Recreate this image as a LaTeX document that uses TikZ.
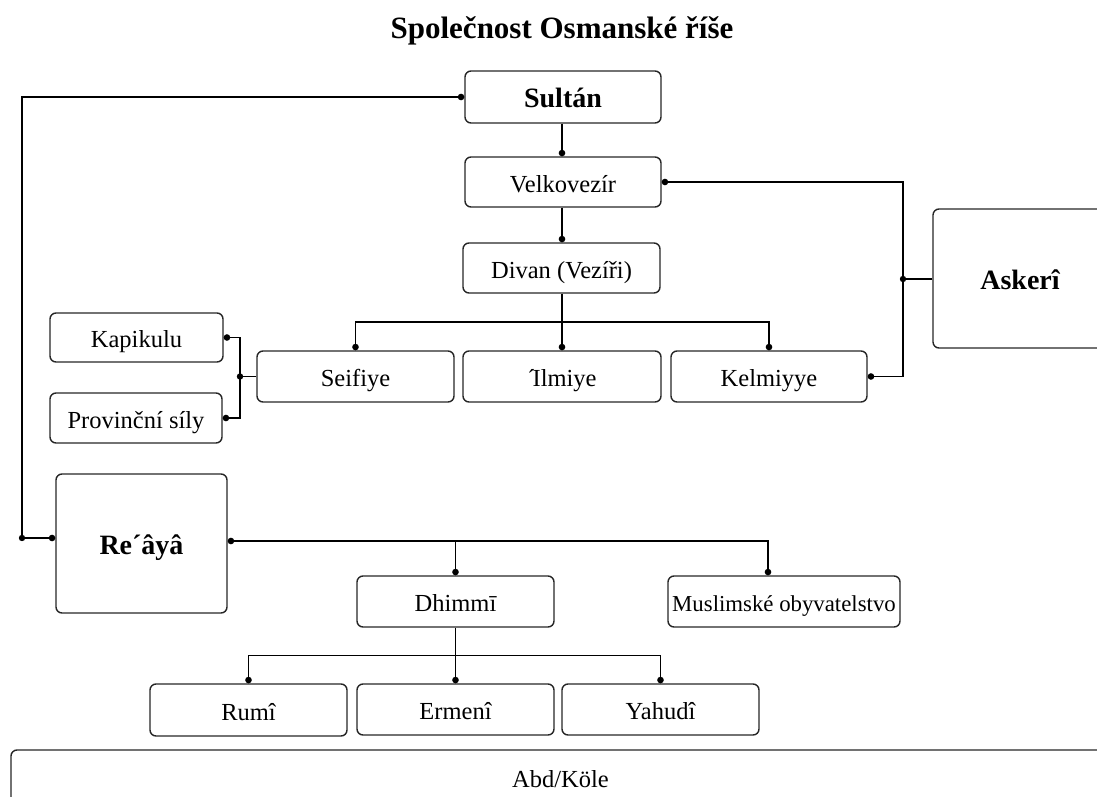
\documentclass[tikz,border=0pt]{standalone}
\usepackage{fontspec}
\setmainfont{Liberation Serif}
\usetikzlibrary{arrows.meta,calc}
\begin{document}
\begin{tikzpicture}[x=1pt,y=-1pt,
  box/.style={draw=black!85, line width=1.4pt, rounded corners=6pt, inner sep=0pt, align=center,
    font=\fontsize{24.5}{29}\selectfont, text height=20pt, text depth=0pt},
  bbox/.style={box, font=\fontsize{28}{33}\bfseries\selectfont, text height=21pt, text depth=0pt},
  conn/.style={line width=1.4pt, draw=black, -{Circle[length=6.5pt]}},
  conn2/.style={line width=1.4pt, draw=black, {Circle[length=6.5pt]}-{Circle[length=6.5pt]}},
  plain/.style={line width=1.4pt, draw=black},
  jdot/.style={fill=black}
]
\useasboundingbox (0,0) rectangle (1097,797);
\node[anchor=base, inner sep=0pt, font=\fontsize{31}{36}\bfseries\selectfont] (title) at (562,39) {Společnost Osmanské říše};

% nodes
\node[bbox, minimum width=196pt, minimum height=52pt] (sultan) at (563,97) {Sultán};
\node[box, minimum width=196pt, minimum height=50pt] (velk) at (563,182) {Velkovezír};
\node[box, minimum width=197pt, minimum height=50pt] (divan) at (561.5,268) {Divan (Vezíři)};
\node[box, minimum width=197pt, minimum height=51pt] (seif) at (355.5,376.5) {Seifiye};
\node[box, minimum width=198pt, minimum height=51pt] (ilm) at (562,376.5) {´\kern-3pt Ilmiye};
\node[box, minimum width=196pt, minimum height=51pt] (kel) at (769,376.5) {Kelmiyye};
\node[box, minimum width=173pt, minimum height=49pt] (kap) at (136.5,337.5) {Kapikulu};
\node[box, minimum width=172pt, minimum height=50pt] (prov) at (136,418) {Provinční síly};
\node[bbox, minimum width=174pt, minimum height=139pt] (ask) at (1020,278.5) {Askerî};
\node[bbox, minimum width=171pt, minimum height=139pt] (reaya) at (141.5,543.5) {Re´âyâ};
\node[box, minimum width=197pt, minimum height=51pt] (dhim) at (455.5,601.5) {Dhimmī};
\node[box, minimum width=232pt, minimum height=51pt, font=\fontsize{22.8}{27}\selectfont] (mus) at (784,601.5) {Muslimské obyvatelstvo};
\node[box, minimum width=197pt, minimum height=52pt] (rumi) at (248.5,710) {Rumî};
\node[box, minimum width=197pt, minimum height=51pt] (erm) at (455.5,709.5) {Ermenî};
\node[box, minimum width=197pt, minimum height=51pt] (yah) at (660.5,709.5) {Yahudî};
\node[box, minimum width=1099pt, minimum height=54pt] (abd) at (560.5,777) {Abd/Köle};

% Sultan -- Re'aya
\coordinate (lc) at (22,538);
\draw[conn2] ($(reaya.west)+(0,-5.5)$) -- (lc) |- (sultan.west);
\fill[jdot] (lc) circle (3.2pt);

% vertical chain
\coordinate (vx) at (562,0);
\draw[conn] (vx |- sultan.south) -- (vx |- velk.north);
\draw[conn] (vx |- velk.south) -- (vx |- divan.north);
\draw[conn] (vx |- divan.south) -- (vx |- ilm.north);
\coordinate (dj) at ($(vx |- divan.south)!0.5!(vx |- ilm.north)$);
\draw[conn] (dj) -| (seif.north);
\draw[conn] (dj) -| (kel.north);

% Askeri
\coordinate (aj) at (903,279);
\draw[plain] (ask.west |- aj) -- (aj);
\fill[jdot] (aj) circle (3.2pt);
\draw[conn] (aj) |- (velk.east);
\draw[conn] (aj) |- (kel.east);

% Seifiye
\coordinate (sj) at (240,376.5);
\draw[plain] (seif.west) -- (sj);
\fill[jdot] (sj) circle (3.2pt);
\draw[conn] (sj) |- (kap.east);
\draw[conn] (sj) |- (prov.east);

% Re'aya branches
\coordinate (rj) at (768,541);
\draw[conn2] ($(reaya.east)+(0,-2.5)$) -- (rj) -- (rj |- mus.north);
\draw[conn] (dhim.north |- rj) -- (dhim.north);

% Dhimmi branches
\draw[conn] (dhim.south) -- (erm.north);
\coordinate (hj) at ($(dhim.south)!0.5!(erm.north)$);
\draw[conn] (hj) -| (rumi.north);
\draw[conn] (hj) -| (yah.north);
\end{tikzpicture}
\end{document}
